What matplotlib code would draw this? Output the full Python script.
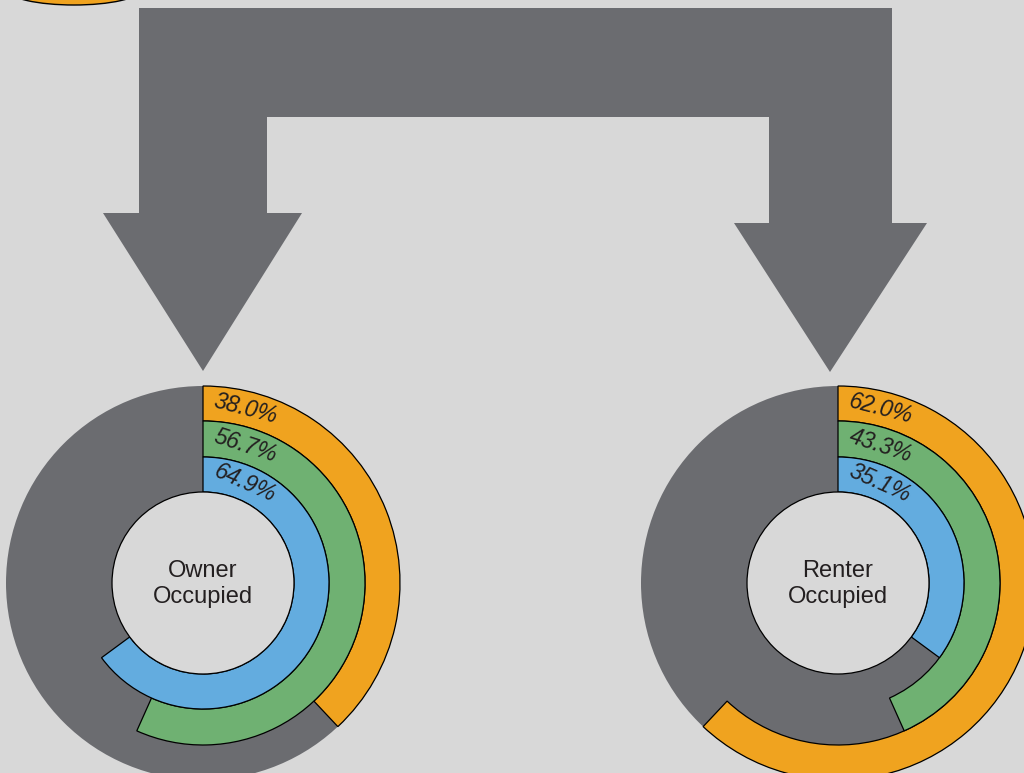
import numpy as np
import matplotlib
matplotlib.use('Agg')
import matplotlib.pyplot as plt
from matplotlib.patches import Wedge, Circle, Polygon, Ellipse

# data
groups = ['Owner\nOccupied', 'Renter\nOccupied']
orange_vals = [38.0, 62.0]
green_vals = [56.7, 43.3]
blue_vals = [64.9, 35.1]

# style
bg_color = '#d8d8d8'
gray_color = '#6b6c70'
ring_colors = ['#f0a31f', '#6fb172', '#63acdf']   # outer -> inner
text_color = '#231f20'

W, H = 1024, 773
centers_x = [203, 838]
center_y = H - 583
hole_r = 91
ring_edges = [197, 162, 126, 91]   # outer radius of each ring, last = hole


def Y(y):
    # picture rows run downwards
    return H - y


fig = plt.figure(figsize=(W / 100, H / 100), dpi=100)
fig.patch.set_facecolor(bg_color)
ax = fig.add_axes([0, 0, 1, 1])
ax.set_xlim(0, W)
ax.set_ylim(0, H)
ax.set_aspect('equal')
ax.axis('off')

# orange blob cut by the top edge
ax.add_patch(Ellipse((74, Y(-10)), 132, 30, facecolor=ring_colors[0],
                     edgecolor='black', lw=1))

# connector arrow
arrow = [(139, 8), (892, 8), (892, 223), (927, 223), (830, 372), (734, 223),
         (769, 223), (769, 117), (267, 117), (267, 213), (302, 213),
         (203, 371), (103, 213), (139, 213)]
ax.add_patch(Polygon([(x, Y(y)) for x, y in arrow], closed=True,
                     facecolor=gray_color, edgecolor='none'))

series = [orange_vals, green_vals, blue_vals]
for i, cx in enumerate(centers_x):
    ax.add_patch(Circle((cx, center_y), ring_edges[0], facecolor=gray_color,
                        edgecolor='none'))
    for k, vals in enumerate(series):
        r_out = ring_edges[k]
        width = ring_edges[k] - ring_edges[k + 1]
        p = vals[i]
        ax.add_patch(Wedge((cx, center_y), r_out, 90 - p * 3.6, 90, width=width,
                           facecolor=ring_colors[k], edgecolor='black', lw=0.9))
        # label along the ring
        r_mid = r_out - width / 2
        th = 43.0 / r_mid
        tx = cx + r_mid * np.sin(th)
        ty = center_y + r_mid * np.cos(th)
        ax.text(tx, ty, '%.1f%%' % p, ha='center', va='center',
                rotation=-np.degrees(th) * 1.05, rotation_mode='anchor',
                fontsize=16.5, fontstyle='italic', family='Liberation Sans',
                color=text_color)
    ax.add_patch(Circle((cx, center_y), hole_r, facecolor=bg_color,
                        edgecolor='black', lw=0.9))
    ax.text(cx, center_y - 1, groups[i], ha='center', va='center',
            fontsize=17, family='Liberation Sans', color=text_color,
            linespacing=1.25)

fig.savefig('out.png', dpi=100, facecolor=bg_color)
